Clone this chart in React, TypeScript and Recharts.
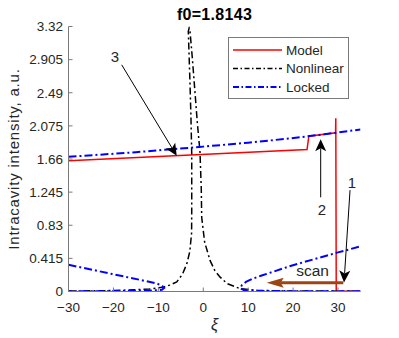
import React from 'react';
import { LineChart, Line, XAxis, YAxis, ReferenceLine, ReferenceDot, Label } from 'recharts';

const W = 399;
const H = 338;
const FONT = '"Liberation Sans", Arial, Helvetica, sans-serif';

const titleText = 'f0=1.8143';
const xLabel = 'ξ';
const yLabel = 'Intracavity intensity, a.u.';

const xTicks = [-30, -20, -10, 0, 10, 20, 30];
const yTicks = [0, 0.415, 0.83, 1.245, 1.66, 2.075, 2.49, 2.905, 3.32];
const xDomain = [-30, 35];
const yDomain = [0, 3.32];

// Model (red)
const modelX = [-30, 23.1, 23.5, 29.45, 29.5, 29.6, 35];
const modelY = [1.637, 1.78, 1.946, 1.988, 2.17, 0.004, 0.004];

// Nonlinear (black dash-dot)
const nonlinX = [-30, -20, -12, -8.9, -7.5, -5.9, -4.6, -3.65, -3.0, -2.6, -2.57, -2.57, -2.75, -2.95, -3.15, -3.33, -3.15, -2.95, -2.4, -1.85, -1.3, -0.73, -0.45, -0.35, 0.3, 1.5, 2.6, 3.75, 5.3, 8.2, 12, 17, 35];
const nonlinY = [0.005, 0.012, 0.03, 0.054, 0.08, 0.12, 0.22, 0.35, 0.5, 0.73, 1.0, 1.73, 2.2, 2.6, 2.95, 3.26, 3.3, 3.26, 2.9, 2.5, 2.1, 1.75, 1.3, 0.93, 0.62, 0.39, 0.26, 0.18, 0.1, 0.035, 0.015, 0.008, 0.003];

// Locked (blue dash-dot): three branches
const lockedUpperX = [-30, -15, 0, 10, 19.4, 27, 35];
const lockedUpperY = [1.687, 1.745, 1.815, 1.865, 1.918, 1.97, 2.03];
const lockedLeftX = [-30, -20, -14, -10.3, -9.2, -8.7, -9.2, -12, -20, -30];
const lockedLeftY = [0.335, 0.216, 0.145, 0.1, 0.072, 0.045, 0.022, 0.01, 0.004, 0.002];
const lockedRightX = [35, 20, 12, 9, 8.2, 8.6, 9.5, 11, 13, 15.7, 19.4, 25, 30, 35];
const lockedRightY = [0.002, 0.004, 0.008, 0.018, 0.04, 0.08, 0.12, 0.16, 0.2, 0.25, 0.32, 0.41, 0.49, 0.565];

// Annotations (data coordinates)
const arrowLabels = ['3', '2', '1'];
const arrowStartX = [-18.16, 26.14, 32.67];
const arrowStartY = [2.84, 1.18, 1.27];
const arrowTipX = [-5.91, 26.14, 31.33];
const arrowTipY = [1.70, 1.907, 0.113];
const arrowLabelX = [-19.65, 26.43, 33.11];
const arrowLabelY = [2.94, 1.02, 1.36];

const scanLabel = 'scan';
const scanStart = { x: 31.18, y: 0.11 };
const scanTip = { x: 14.12, y: 0.11 };
const scanLabelPos = { x: 24.32, y: 0.27 };

const zip = (xs: number[], ys: number[]) => xs.map((x, i) => ({ x, y: ys[i] }));

const modelData = zip(modelX, modelY);
const nonlinData = zip(nonlinX, nonlinY);
const lockedUpper = zip(lockedUpperX, lockedUpperY);
const lockedLeft = zip(lockedLeftX, lockedLeftY);
const lockedRight = zip(lockedRightX, lockedRightY);

const RED = '#ff0000';
const BLUE = '#0000ff';
const BLACK = '#000000';
const BROWN = '#9c4414';
const AXIS = '#7a7a7a';
const TXT = '#262626';
const DASHDOT_B = '8 3 2 3';
const DASHDOT_K = '7 3 2 3';
const TICK_FS = 13.5;

const legendItems = [
  { name: 'Model', color: RED, dash: undefined as string | undefined, w: 1.5 },
  { name: 'Nonlinear', color: BLACK, dash: '5 2.5 1.5 2.5', w: 1.5 },
  { name: 'Locked', color: BLUE, dash: '6 2.5 1.5 2.5', w: 2 },
];

const fmtX = (v: number) => (v < 0 ? '\u2212' + Math.abs(v) : String(v));

function arrowShape(p: any, opt: { len: number; hw: number; indent: number; color: string; width: number }) {
  const { x1, y1, x2, y2 } = p;
  const dx = x2 - x1;
  const dy = y2 - y1;
  const n = Math.sqrt(dx * dx + dy * dy) || 1;
  const ux = dx / n;
  const uy = dy / n;
  const px = -uy;
  const py = ux;
  const bx = x2 - ux * opt.len;
  const by = y2 - uy * opt.len;
  const ix = x2 - ux * (opt.len - opt.indent);
  const iy = y2 - uy * (opt.len - opt.indent);
  const pts = `${x2},${y2} ${bx + px * opt.hw},${by + py * opt.hw} ${ix},${iy} ${bx - px * opt.hw},${by - py * opt.hw}`;
  return (
    <g>
      <line x1={x1} y1={y1} x2={ix} y2={iy} stroke={opt.color} strokeWidth={opt.width} />
      <polygon points={pts} fill={opt.color} stroke="none" />
    </g>
  );
}

const textDot = (txt: string, size: number) => (p: any) => (
  <text x={p.cx} y={p.cy} dy="0.36em" textAnchor="middle" fontFamily={FONT} fontSize={size} fill={TXT}>
    {txt}
  </text>
);

const BottomTick = (p: any) => (
  <g>
    <line x1={p.x} x2={p.x} y1={p.y} y2={p.y - 4} stroke={AXIS} />
    <text x={p.x} y={p.y + 20.5} textAnchor="middle" fontFamily={FONT} fontSize={TICK_FS} fill={TXT}>
      {fmtX(p.payload.value)}
    </text>
  </g>
);
const TopTick = (p: any) => <line x1={p.x} x2={p.x} y1={p.y} y2={p.y + 4} stroke={AXIS} />;
const LeftTick = (p: any) => (
  <g>
    <line x1={p.x} x2={p.x + 4} y1={p.y} y2={p.y} stroke={AXIS} />
    <text x={p.x - 5.5} y={p.y} dy="0.36em" textAnchor="end" fontFamily={FONT} fontSize={TICK_FS} fill={TXT}>
      {String(p.payload.value)}
    </text>
  </g>
);
const RightTick = (p: any) => <line x1={p.x} x2={p.x - 4} y1={p.y} y2={p.y} stroke={AXIS} />;

export default function App() {
  return (
    <div style={{ position: 'absolute', left: 0, top: 0, width: W, height: H, background: '#fff' }}>
      <LineChart width={W} height={H} margin={{ top: 26.5, right: 38.5, bottom: 0, left: 0.5 }}>
        <XAxis
          xAxisId="bottom"
          dataKey="x"
          type="number"
          domain={xDomain}
          ticks={xTicks}
          allowDataOverflow
          height={46.5}
          tickSize={0}
          tickMargin={0}
          tick={BottomTick}
          axisLine={{ stroke: AXIS }}
          interval={0}
        >
          <Label
            content={(lp: any) => {
              const vb = lp.viewBox;
              return (
                <text x={vb.x + vb.width / 2} y={vb.y + 38} textAnchor="middle" fontFamily={FONT} fontSize={16} fontStyle="italic" fill={TXT}>
                  {xLabel}
                </text>
              );
            }}
          />
        </XAxis>
        <XAxis
          xAxisId="top"
          orientation="top"
          dataKey="x"
          type="number"
          domain={xDomain}
          ticks={xTicks}
          allowDataOverflow
          height={0}
          tickSize={0}
          tickMargin={0}
          tick={TopTick}
          axisLine={{ stroke: AXIS }}
          interval={0}
        />
        <YAxis
          yAxisId="left"
          type="number"
          domain={yDomain}
          ticks={yTicks}
          allowDataOverflow
          width={68}
          tickSize={0}
          tickMargin={0}
          tick={LeftTick}
          axisLine={{ stroke: AXIS }}
          interval={0}
        >
          <Label
            content={(lp: any) => {
              const vb = lp.viewBox;
              const cy = vb.y + vb.height / 2;
              return (
                <text
                  x={18.5}
                  y={cy}
                  transform={`rotate(-90 18.5 ${cy})`}
                  textAnchor="middle"
                  fontFamily={FONT}
                  fontSize={15}
                  letterSpacing={0.8}
                  fill={TXT}
                >
                  {yLabel}
                </text>
              );
            }}
          />
        </YAxis>
        <YAxis
          yAxisId="right"
          orientation="right"
          type="number"
          domain={yDomain}
          ticks={yTicks}
          allowDataOverflow
          width={0}
          tickSize={0}
          tickMargin={0}
          tick={RightTick}
          axisLine={{ stroke: AXIS }}
          interval={0}
        />

        <Line data={modelData} dataKey="y" xAxisId="bottom" yAxisId="left" type="linear" stroke={RED} strokeWidth={1.5} dot={false} activeDot={false} isAnimationActive={false} />
        <Line data={nonlinData} dataKey="y" xAxisId="bottom" yAxisId="left" type="linear" stroke={BLACK} strokeWidth={1.5} strokeDasharray={DASHDOT_K} dot={false} activeDot={false} isAnimationActive={false} />
        <Line data={lockedUpper} dataKey="y" xAxisId="bottom" yAxisId="left" type="linear" stroke={BLUE} strokeWidth={2} strokeDasharray={DASHDOT_B} dot={false} activeDot={false} isAnimationActive={false} />
        <Line data={lockedLeft} dataKey="y" xAxisId="bottom" yAxisId="left" type="linear" stroke={BLUE} strokeWidth={2} strokeDasharray={DASHDOT_B} dot={false} activeDot={false} isAnimationActive={false} />
        <Line data={lockedRight} dataKey="y" xAxisId="bottom" yAxisId="left" type="linear" stroke={BLUE} strokeWidth={2} strokeDasharray={DASHDOT_B} dot={false} activeDot={false} isAnimationActive={false} />

        {arrowLabels.map((lab, i) => (
          <ReferenceLine
            key={'arr' + lab}
            xAxisId="bottom"
            yAxisId="left"
            ifOverflow="visible"
            segment={[
              { x: arrowStartX[i], y: arrowStartY[i] },
              { x: arrowTipX[i], y: arrowTipY[i] },
            ]}
            shape={(p: any) => arrowShape(p, { len: 12, hw: 5.5, indent: 3, color: BLACK, width: 1 })}
          />
        ))}
        {arrowLabels.map((lab, i) => (
          <ReferenceDot
            key={'lab' + lab}
            xAxisId="bottom"
            yAxisId="left"
            ifOverflow="visible"
            x={arrowLabelX[i]}
            y={arrowLabelY[i]}
            shape={textDot(lab, 15)}
          />
        ))}
        <ReferenceLine
          xAxisId="bottom"
          yAxisId="left"
          ifOverflow="visible"
          segment={[scanStart, scanTip]}
          shape={(p: any) => arrowShape(p, { len: 17, hw: 5, indent: 3, color: BROWN, width: 3 })}
        />
        <ReferenceDot
          xAxisId="bottom"
          yAxisId="left"
          ifOverflow="visible"
          x={scanLabelPos.x}
          y={scanLabelPos.y}
          shape={textDot(scanLabel, 15.5)}
        />
      </LineChart>

      <svg width={W} height={H} style={{ position: 'absolute', left: 0, top: 0, pointerEvents: 'none' }}>
        <text x={214.5} y={20} textAnchor="middle" fontFamily={FONT} fontSize={16} fontWeight="bold" letterSpacing={0.3} fill={BLACK}>
          {titleText}
        </text>
        <rect x={228.5} y={37.5} width={120} height={61} fill="#fff" stroke={AXIS} strokeWidth={1} />
        {legendItems.map((it, i) => {
          const y = 50 + i * 18.5;
          return (
            <g key={it.name}>
              <line x1={233} x2={282} y1={y} y2={y} stroke={it.color} strokeWidth={it.w} strokeDasharray={it.dash} />
              <text x={286} y={y} dy="0.36em" fontFamily={FONT} fontSize={13.5} fill={TXT}>
                {it.name}
              </text>
            </g>
          );
        })}
      </svg>
    </div>
  );
}
